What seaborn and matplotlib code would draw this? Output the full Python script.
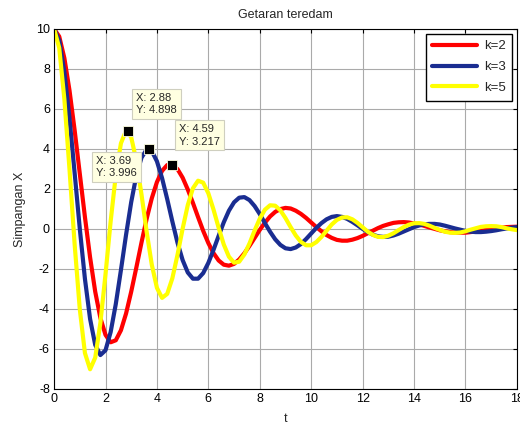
import matplotlib
matplotlib.use('Agg')
import matplotlib.pyplot as plt
import pandas as pd
import seaborn as sns

# sample times (s)
t = [0.0, 0.2, 0.4, 0.6, 0.8, 1.0, 1.2, 1.4, 1.6, 1.8,
     2.0, 2.2, 2.4, 2.6, 2.8, 3.0, 3.2, 3.4, 3.6, 3.8,
     4.0, 4.2, 4.4, 4.6, 4.8, 5.0, 5.2, 5.4, 5.6, 5.8,
     6.0, 6.2, 6.4, 6.6, 6.8, 7.0, 7.2, 7.4, 7.6, 7.8,
     8.0, 8.2, 8.4, 8.6, 8.8, 9.0, 9.2, 9.4, 9.6, 9.8,
     10.0, 10.2, 10.4, 10.6, 10.8, 11.0, 11.2, 11.4, 11.6, 11.8,
     12.0, 12.2, 12.4, 12.6, 12.8, 13.0, 13.2, 13.4, 13.6, 13.8,
     14.0, 14.2, 14.4, 14.6, 14.8, 15.0, 15.2, 15.4, 15.6, 15.8,
     16.0, 16.2, 16.4, 16.6, 16.8, 17.0, 17.2, 17.4, 17.6, 17.8,
     18.0]

# displacement for each spring constant
x_k2 = [10.00, 9.62, 8.54, 6.92, 4.93, 2.76, 0.59, -1.42, -3.14, -4.45,
        -5.30, -5.67, -5.57, -5.07, -4.23, -3.14, -1.93, -0.68, 0.50, 1.53,
        2.34, 2.90, 3.19, 3.21, 2.99, 2.56, 1.97, 1.30, 0.59, -0.10,
        -0.71, -1.21, -1.58, -1.79, -1.84, -1.75, -1.53, -1.22, -0.85, -0.45,
        -0.05, 0.31, 0.62, 0.85, 0.99, 1.05, 1.02, 0.91, 0.75, 0.55,
        0.32, 0.09, -0.12, -0.31, -0.45, -0.55, -0.59, -0.59, -0.54, -0.46,
        -0.35, -0.22, -0.09, 0.04, 0.15, 0.23, 0.30, 0.33, 0.34, 0.32,
        0.27, 0.22, 0.15, 0.07, 0.00, -0.07, -0.12, -0.16, -0.18, -0.19,
        -0.19, -0.16, -0.13, -0.09, -0.05, -0.01, 0.03, 0.06, 0.09, 0.10,
        0.11]
x_k3 = [10.00, 9.43, 7.84, 5.52, 2.79, 0.01, -2.50, -4.50, -5.80, -6.31,
        -6.07, -5.16, -3.76, -2.06, -0.29, 1.34, 2.67, 3.56, 3.97, 3.89,
        3.38, 2.54, 1.49, 0.37, -0.69, -1.56, -2.18, -2.49, -2.49, -2.21,
        -1.70, -1.05, -0.35, 0.33, 0.91, 1.33, 1.56, 1.59, 1.44, 1.14,
        0.74, 0.29, -0.14, -0.52, -0.80, -0.97, -1.01, -0.93, -0.76, -0.51,
        -0.23, 0.05, 0.29, 0.48, 0.60, 0.64, 0.60, 0.50, 0.35, 0.18,
        0.00, -0.16, -0.29, -0.37, -0.40, -0.39, -0.33, -0.24, -0.13, -0.02,
        0.09, 0.17, 0.23, 0.25, 0.25, 0.22, 0.16, 0.09, 0.02, -0.04,
        -0.10, -0.14, -0.16, -0.16, -0.14, -0.11, -0.07, -0.02, 0.02, 0.06,
        0.09]
x_k5 = [10.00, 9.05, 6.49, 2.97, -0.78, -4.02, -6.21, -7.02, -6.44, -4.71,
        -2.27, 0.37, 2.69, 4.28, 4.92, 4.58, 3.41, 1.72, -0.14, -1.79,
        -2.95, -3.45, -3.25, -2.47, -1.30, 0.01, 1.19, 2.03, 2.41, 2.31,
        1.78, 0.97, 0.06, -0.78, -1.39, -1.69, -1.64, -1.28, -0.73, -0.08,
        0.51, 0.96, 1.18, 1.16, 0.93, 0.54, 0.09, -0.33, -0.65, -0.82,
        -0.82, -0.66, -0.40, -0.09, 0.22, 0.45, 0.57, 0.58, 0.48, 0.30,
        0.08, -0.14, -0.30, -0.40, -0.41, -0.34, -0.22, -0.06, 0.09, 0.21,
        0.28, 0.29, 0.25, 0.16, 0.05, -0.05, -0.14, -0.19, -0.20, -0.18,
        -0.12, -0.04, 0.03, 0.10, 0.13, 0.14, 0.13, 0.09, 0.03, -0.02,
        -0.06]

labels = ['k=2', 'k=3', 'k=5']
colors = ['#ff0000', '#1a2d91', '#ffff00']

# data tips shown on the figure
tip_x = [3.69, 2.88, 4.59]
tip_y = [3.996, 4.898, 3.217]

df = pd.DataFrame({
    't': t * 3,
    'x': x_k2 + x_k3 + x_k5,
    'k': [labels[0]] * len(t) + [labels[1]] * len(t) + [labels[2]] * len(t),
})

sns.set_style('white')
plt.rcParams['font.family'] = ['Liberation Sans', 'DejaVu Sans']
plt.rcParams['axes.unicode_minus'] = False

fig = plt.figure(figsize=(5.2, 4.25), dpi=100)
ax = fig.add_axes([0.104, 0.085, 0.890, 0.847])

sns.lineplot(data=df, x='t', y='x', hue='k', hue_order=labels,
             palette=dict(zip(labels, colors)), linewidth=3,
             estimator=None, legend=False, ax=ax)
lines = ax.lines[:3]

ax.set_xlim(0, 18)
ax.set_ylim(-8, 10)
ax.set_xticks(range(0, 19, 2))
ax.set_yticks(range(-8, 11, 2))
ax.grid(True, color='#aaaaaa', linewidth=0.8)
ax.set_axisbelow(True)
ax.tick_params(direction='in', top=True, right=True, length=3,
               width=0.8, labelsize=9, colors='black', pad=3)
for s in ax.spines.values():
    s.set_color('black')
    s.set_linewidth(0.8)

ax.set_title('Getaran teredam', fontsize=9, pad=8)
ax.set_xlabel('t', fontsize=9, labelpad=6)
ax.set_ylabel('Simpangan X', fontsize=9, labelpad=7)

ax.legend(lines, labels, loc='upper right', fontsize=9.5, frameon=True,
          fancybox=False, edgecolor='black', framealpha=1,
          handlelength=3.4, labelspacing=0.65, borderaxespad=0.35,
          borderpad=0.5, handletextpad=0.5)

# data tips
ax.plot(tip_x, tip_y, 's', color='black', markersize=6.5,
        markeredgecolor='#ffffe1', markeredgewidth=0.6, zorder=5)
offsets = [(-12, -7), (8, 16), (7, 18)]
aligns = [('right', 'top'), ('left', 'bottom'), ('left', 'bottom')]
for tx, ty, off, (ha, va) in zip(tip_x, tip_y, offsets, aligns):
    ax.annotate(f'X: {tx}\nY: {ty}', (tx, ty), xytext=off,
                textcoords='offset pixels', ha=ha, va=va, fontsize=8,
                multialignment='left', linespacing=1.3, zorder=6,
                bbox=dict(boxstyle='square,pad=0.35', fc='#ffffe1',
                          ec='#cfcfbf', lw=0.8))

fig.savefig('out.png', dpi=100)
